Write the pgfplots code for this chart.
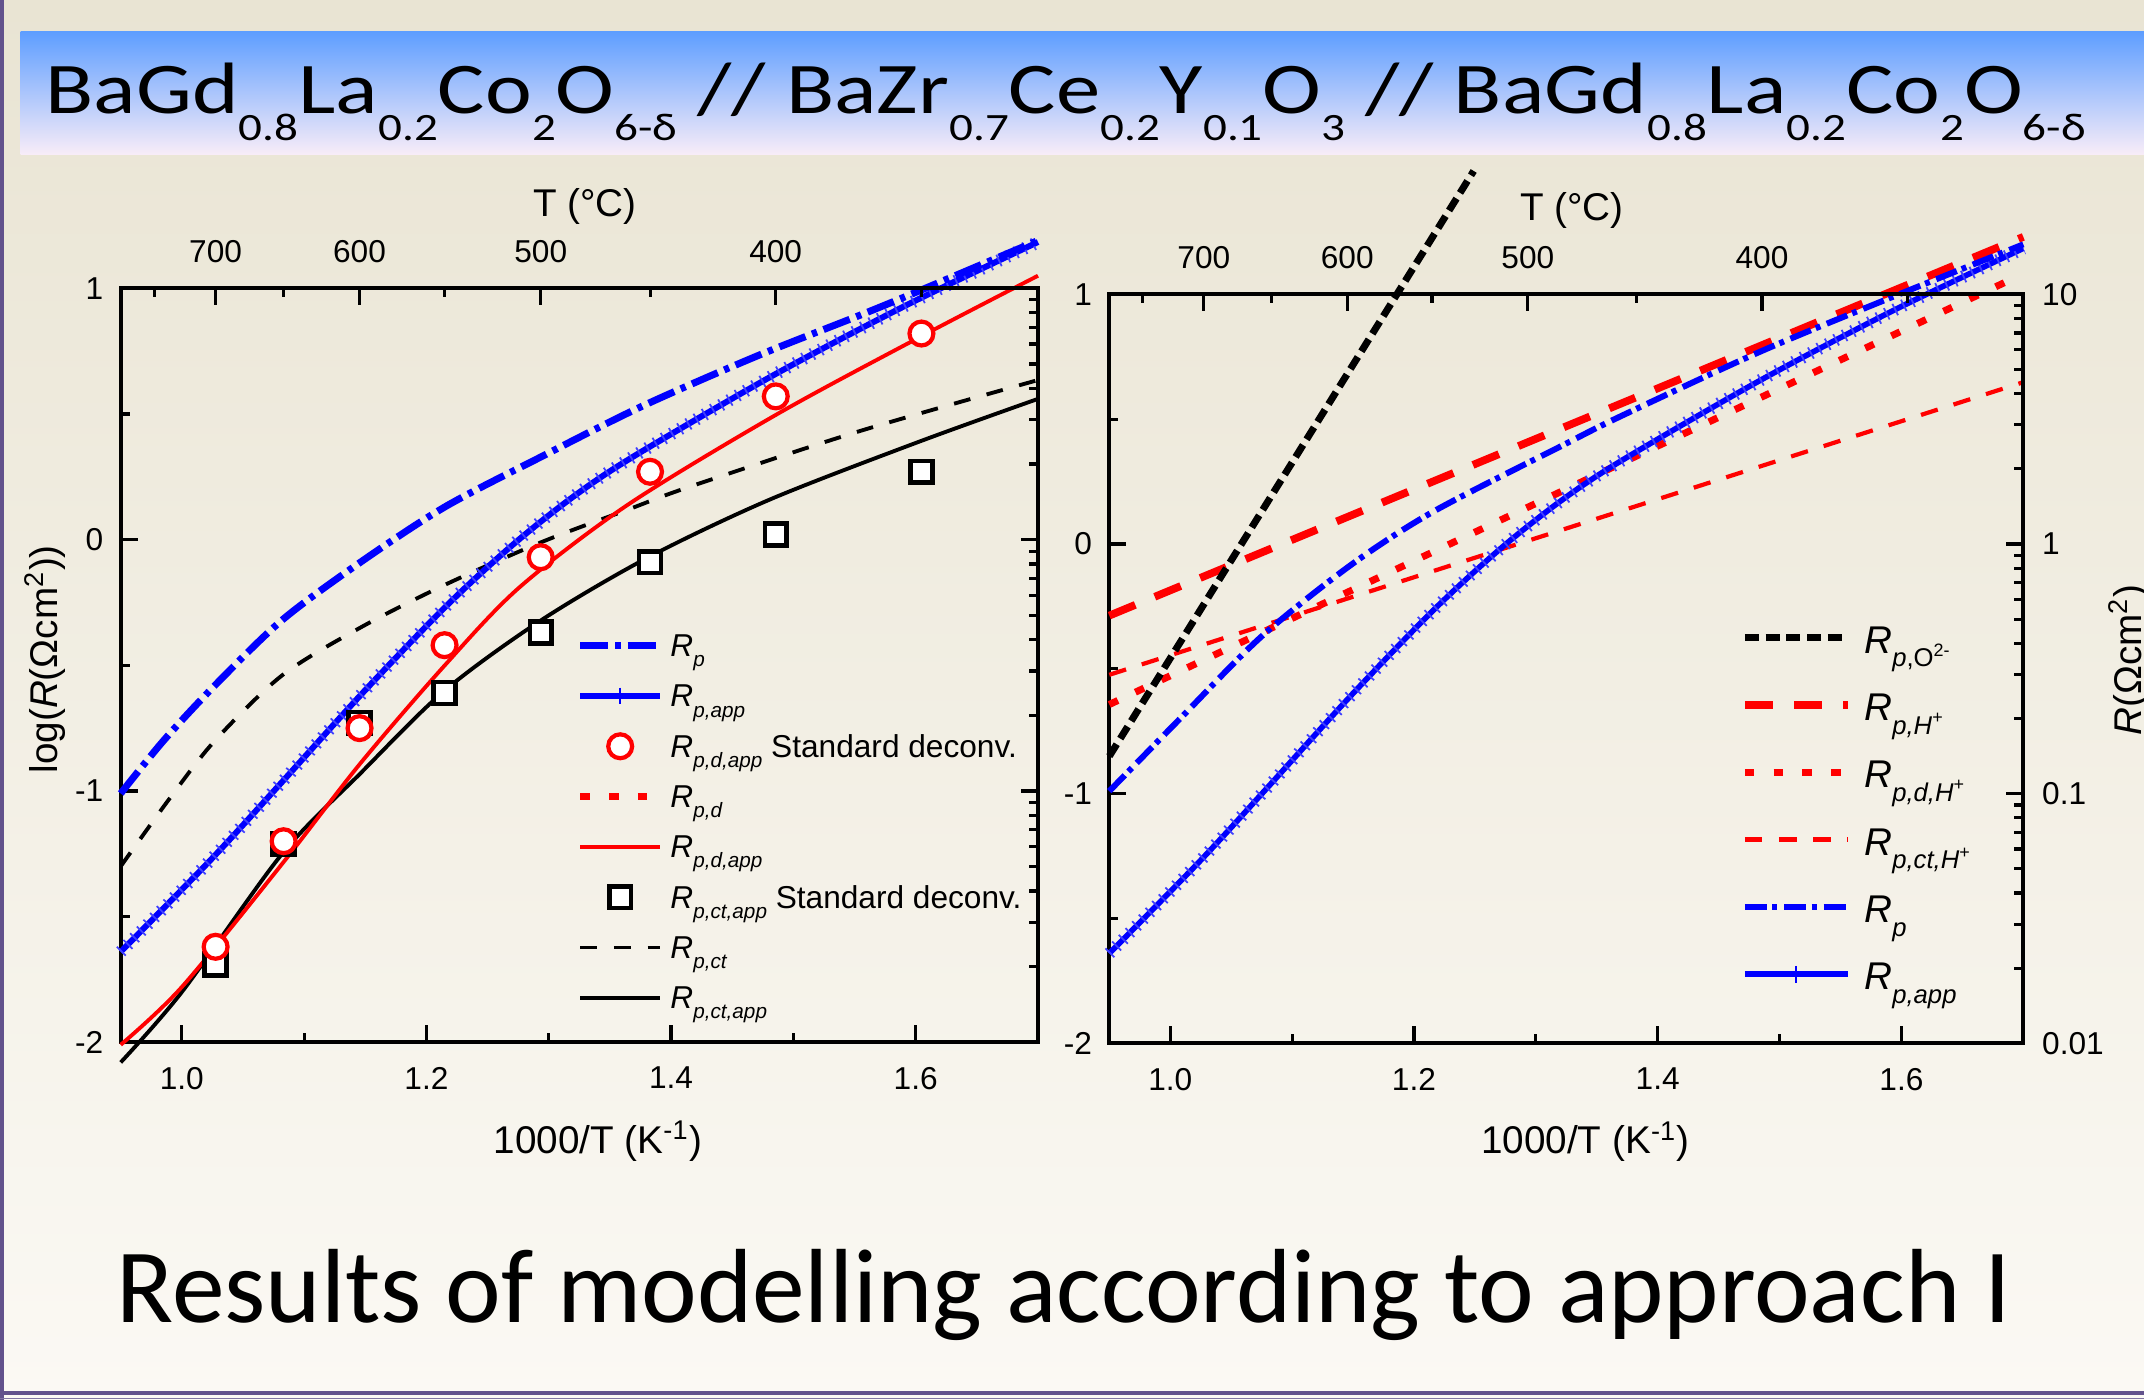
\documentclass[border=0pt]{standalone}
\usepackage{pgfplots}
\pgfplotsset{compat=1.18}
\usepackage{fontspec}
\setmainfont{Liberation Sans}
\newfontfamily\cali{Carlito}

\definecolor{bgtop}{RGB}{233,228,211}
\definecolor{bgbot}{RGB}{251,249,244}
\definecolor{bandtop}{RGB}{94,158,255}
\definecolor{bandbot}{RGB}{249,237,248}
\definecolor{edge}{RGB}{98,82,140}

% subscripts, dropped low as in the slide
\newcommand{\lsub}[1]{\raisebox{-0.32em}{\fontsize{5.9pt}{6pt}\selectfont\itshape #1}}
\newcommand{\rsub}[1]{\raisebox{-0.35em}{\fontsize{7.3pt}{8pt}\selectfont #1}}
\newcommand{\tsub}[1]{\raisebox{-0.37em}{\fontsize{11pt}{12pt}\selectfont #1}}

\pgfplotsset{
  panel/.style={
    scale only axis, anchor=south west,
    xmin=0.95, xmax=1.7, ymin=-2, ymax=1,
    clip=false,
    tick align=inside,
    major tick length=0.17cm, minor tick length=0.09cm,
    tick style={black, line width=0.9pt},
    axis line style={line width=1.1pt, line cap=rect},
    tick label style={font=\fontsize{9}{10}\selectfont},
    label style={font=\fontsize{11}{12}\selectfont},
  },
  front/.style={
    axis x line*=bottom, axis y line*=left,
    xtick={1.0,1.2,1.4,1.6}, xticklabels={1.0,1.2,1.4,1.6},
    minor xtick={1.1,1.3,1.5},
    ytick={-2,-1,0,1}, yticklabels={-2,-1,0,1},
    minor ytick={-1.5,-0.5,0.5},
    xticklabel style={yshift=-0.125cm},
    yticklabel style={xshift=-0.05cm},
    xlabel={1000/T (K\textsuperscript{-1})},
  },
  back/.style={
    axis x line*=top, axis y line*=right,
    xtick={1.02759,1.14528,1.29341,1.48555},
    xticklabels={700,600,500,400},
    minor xtick={0.97737,1.08324,1.21485,1.38284,1.60475},
    ytick={-2,-1,0,1},
    minor ytick={-1.69897,-1.52288,-1.39794,-1.30103,-1.22185,-1.15490,-1.09691,-1.04576,
                 -0.69897,-0.52288,-0.39794,-0.30103,-0.22185,-0.15490,-0.09691,-0.04576,
                 0.30103,0.47712,0.60206,0.69897,0.77815,0.84510,0.90309,0.95424},
    xticklabel style={yshift=0.128cm},
    xlabel={T (°C)},
  },
}

\begin{document}
\begin{tikzpicture}
% slide background
\shade[top color=bgtop, bottom color=bgbot] (0,0) rectangle (21.44,14);
\fill[edge] (0,0) rectangle (0.035,14);
\fill[edge] (0,0.05) rectangle (21.44,0.09);
\fill[edge!80] (0,0.005) rectangle (21.44,0.02);
\shade[top color=bandtop, bottom color=bandbot] (0.205,12.45) rectangle (21.44,13.683);

\node[anchor=base west, inner sep=0pt] at (0.45,12.867)
  {\resizebox{20.40cm}{\height}{\cali\fontsize{20.7pt}{24pt}\selectfont
   BaGd\tsub{0.8}La\tsub{0.2}Co\tsub{2}O\tsub{6-δ} // BaZr\tsub{0.7}Ce\tsub{0.2}Y\tsub{0.1}O\tsub{3} // BaGd\tsub{0.8}La\tsub{0.2}Co\tsub{2}O\tsub{6-δ}}};

\node[anchor=base west, inner sep=0pt] at (1.16,0.77)
  {\cali\fontsize{30pt}{36pt}\selectfont Results of modelling according to approach I};

% ---------------- left panel ----------------
\begin{axis}[panel, front, at={(1.207cm,3.577cm)}, width=9.173cm, height=7.54cm,
  xlabel style={at={(axis description cs:0.5203,-0.148)}, anchor=base},
  ylabel={log(\textit{R}(Ωcm\textsuperscript{2}))},
  ylabel style={at={(axis description cs:-0.0694,0.508)}, anchor=base},
  legend image code/.code={
    \path[draw=none, fill=none] (0cm,-0.1cm) rectangle (0.8cm,0.1cm);
    \draw[mark repeat=2,mark phase=2,#1] plot coordinates {(0cm,0cm) (0.4cm,0cm) (0.8cm,0cm)};},
  legend cell align=left,
  legend style={at={(axis description cs:0.4971,0.5552)}, anchor=north west,
    draw=none, fill=none, inner sep=0pt, outer sep=0pt,
    row sep=0.063cm, column sep=0.067cm,
    font=\fontsize{9}{10}\selectfont,
    nodes={inner sep=0pt, text height=0.33cm, text depth=0.11cm}},
]
% R_p,ct,app
\addplot[black, line width=1.1pt, smooth, forget plot] coordinates {
 (0.95,-2.08) (1.0,-1.80) (1.082,-1.25) (1.146,-0.93) (1.215,-0.60) (1.294,-0.32)
 (1.3815,-0.07) (1.481,0.16) (1.603,0.39) (1.70,0.56)};
% R_p,ct
\addplot[black, line width=1.1pt, dash pattern=on 4.8pt off 4.8pt, smooth, forget plot] coordinates {
 (0.95,-1.30) (0.99,-1.03) (1.027,-0.80) (1.082,-0.54) (1.146,-0.35) (1.215,-0.18)
 (1.294,-0.01) (1.365,0.12) (1.415,0.21) (1.553,0.43) (1.70,0.635)};
% R_p,d,app
\addplot[red, line width=1.1pt, smooth, forget plot] coordinates {
 (0.95,-2.01) (1.0,-1.78) (1.082,-1.29) (1.146,-0.89) (1.215,-0.50) (1.276,-0.19)
 (1.365,0.14) (1.487,0.50) (1.605,0.81) (1.70,1.05)};
% R_p,app
\addplot[blue, line width=1.7pt, smooth, forget plot,
  postaction={draw=blue!75, line width=3.6pt, dash pattern=on 0.5pt off 2.2pt}] coordinates {
 (0.95,-1.64) (1.0244,-1.27) (1.079,-0.98) (1.1478,-0.61) (1.216,-0.265) (1.2707,-0.02)
 (1.3198,0.17) (1.369,0.33) (1.484,0.655) (1.5933,0.935) (1.70,1.184)};
% R_p
\addplot[blue, line width=2pt, dash pattern=on 8pt off 2pt on 1.5pt off 2pt, smooth, forget plot] coordinates {
 (0.95,-1.01) (0.985,-0.80) (1.027,-0.58) (1.082,-0.32) (1.146,-0.09) (1.215,0.13)
 (1.294,0.33) (1.376,0.53) (1.470,0.73) (1.553,0.89) (1.603,0.99) (1.70,1.19)};
% R_p,ct,app standard deconvolution
\addplot[only marks, mark=square*, mark size=3.1pt,
  mark options={draw=black, fill=white, line width=1.3pt}, forget plot] coordinates {
 (1.0276,-1.69) (1.0832,-1.21) (1.1453,-0.73) (1.2148,-0.61) (1.2934,-0.37)
 (1.3828,-0.09) (1.4856,0.02) (1.6047,0.27)};
% R_p,d,app standard deconvolution
\addplot[only marks, mark=*, mark size=3.4pt,
  mark options={draw=red, fill=white, line width=1.2pt}, forget plot] coordinates {
 (1.0276,-1.62) (1.0832,-1.20) (1.1453,-0.75) (1.2148,-0.42) (1.2934,-0.07)
 (1.3828,0.27) (1.4856,0.57) (1.6047,0.82)};

\addlegendimage{blue, line width=2pt, dash pattern=on 8pt off 2pt on 1.5pt off 2pt}
\addlegendentry{\textit{R}\lsub{p}}
\addlegendimage{blue, line width=1.7pt, mark=|, mark size=2.4pt, mark options={solid, line width=0.5pt}}
\addlegendentry{\textit{R}\lsub{p,app}}
\addlegendimage{only marks, mark=*, mark size=3.4pt, mark options={draw=red, fill=white, line width=1.2pt}}
\addlegendentry{\textit{R}\lsub{p,d,app} Standard deconv.}
\addlegendimage{red, line width=1.9pt, dash pattern=on 2.7pt off 5.5pt}
\addlegendentry{\textit{R}\lsub{p,d}}
\addlegendimage{red, line width=1.1pt}
\addlegendentry{\textit{R}\lsub{p,d,app}}
\addlegendimage{only marks, mark=square*, mark size=3.1pt, mark options={draw=black, fill=white, line width=1.3pt}}
\addlegendentry{\textit{R}\lsub{p,ct,app} Standard deconv.}
\addlegendimage{black, line width=1.1pt, dash pattern=on 4.8pt off 4.8pt}
\addlegendentry{\textit{R}\lsub{p,ct}}
\addlegendimage{black, line width=1.1pt}
\addlegendentry{\textit{R}\lsub{p,ct,app}}
\end{axis}

\begin{axis}[panel, back, at={(1.207cm,3.577cm)}, width=9.173cm, height=7.54cm,
  yticklabels={},
  xlabel style={at={(axis description cs:0.506,1.095)}, anchor=base},
]
\end{axis}

% ---------------- right panel ----------------
\begin{axis}[panel, front, at={(11.093cm,3.567cm)}, width=9.14cm, height=7.49cm,
  xlabel style={at={(axis description cs:0.521,-0.1478)}, anchor=base},
  legend image code/.code={
    \path[draw=none, fill=none] (0cm,-0.1cm) rectangle (1.03cm,0.1cm);
    \draw[mark repeat=2,mark phase=2,#1] plot coordinates {(0cm,0cm) (0.515cm,0cm) (1.03cm,0cm)};},
  legend cell align=left,
  legend style={at={(axis description cs:0.6911,0.5808)}, anchor=north west,
    draw=none, fill=none, inner sep=0pt, outer sep=0pt,
    row sep=0.085cm, column sep=0.127cm,
    font=\fontsize{11}{12}\selectfont,
    nodes={inner sep=0pt, text height=0.45cm, text depth=0.138cm}},
]
% R_p,ct,H+
\addplot[red, line width=1.2pt, dash pattern=on 5pt off 4.7pt, forget plot] coordinates {
 (0.95,-0.524) (1.70,0.648)};
% R_p,d,H+
\addplot[red, line width=2pt, dash pattern=on 2.7pt off 5.5pt, forget plot] coordinates {
 (0.95,-0.643) (1.692,1.064)};
% R_p,H+
\addplot[red, line width=2.2pt, dash pattern=on 8pt off 6pt, forget plot] coordinates {
 (0.95,-0.287) (1.70,1.23)};
% R_p,O2-
\addplot[black, line width=2pt, dash pattern=on 4pt off 1.9pt, forget plot] coordinates {
 (0.95,-0.85) (1.249,1.494)};
% R_p,app
\addplot[blue, line width=1.6pt, smooth, forget plot,
  postaction={draw=blue!75, line width=3.6pt, dash pattern=on 0.5pt off 2.2pt}] coordinates {
 (0.95,-1.64) (1.0244,-1.27) (1.079,-0.98) (1.1478,-0.61) (1.216,-0.265) (1.2707,-0.02)
 (1.3198,0.17) (1.369,0.33) (1.484,0.655) (1.5933,0.935) (1.70,1.184)};
% R_p
\addplot[blue, line width=1.7pt, dash pattern=on 6.3pt off 1.5pt on 1.4pt off 2pt, smooth, forget plot] coordinates {
 (0.95,-0.99) (1.01,-0.69) (1.075,-0.37) (1.148,-0.085) (1.216,0.13) (1.32,0.39)
 (1.369,0.51) (1.484,0.77) (1.593,0.99) (1.70,1.20)};

\addlegendimage{black, line width=2pt, dash pattern=on 4pt off 1.9pt}
\addlegendentry{\textit{R}\rsub{\textit{p},O\textsuperscript{2-}}}
\addlegendimage{red, line width=2.2pt, dash pattern=on 8pt off 6pt}
\addlegendentry{\textit{R}\rsub{\textit{p,H}\textsuperscript{+}}}
\addlegendimage{red, line width=2pt, dash pattern=on 2.7pt off 5.5pt}
\addlegendentry{\textit{R}\rsub{\textit{p,d,H}\textsuperscript{+}}}
\addlegendimage{red, line width=1.2pt, dash pattern=on 5pt off 4.7pt}
\addlegendentry{\textit{R}\rsub{\textit{p,ct,H}\textsuperscript{+}}}
\addlegendimage{blue, line width=1.7pt, dash pattern=on 6.3pt off 1.5pt on 1.4pt off 2pt}
\addlegendentry{\textit{R}\rsub{\textit{p}}}
\addlegendimage{blue, line width=1.6pt, mark=|, mark size=2.4pt, mark options={solid, line width=0.5pt}}
\addlegendentry{\textit{R}\rsub{\textit{p,app}}}
\end{axis}

\begin{axis}[panel, back, at={(11.093cm,3.567cm)}, width=9.14cm, height=7.49cm,
  yticklabels={0.01,0.1,1,10},
  yticklabel style={xshift=0.065cm},
  xlabel style={at={(axis description cs:0.506,1.098)}, anchor=base},
  ylabel={\textit{R}(Ωcm\textsuperscript{2})},
  ylabel style={at={(axis description cs:1.1288,0.5117)}, anchor=base},
]
\end{axis}

\pgfresetboundingbox
\useasboundingbox (0,0) rectangle (21.44,14);
\end{tikzpicture}
\end{document}
